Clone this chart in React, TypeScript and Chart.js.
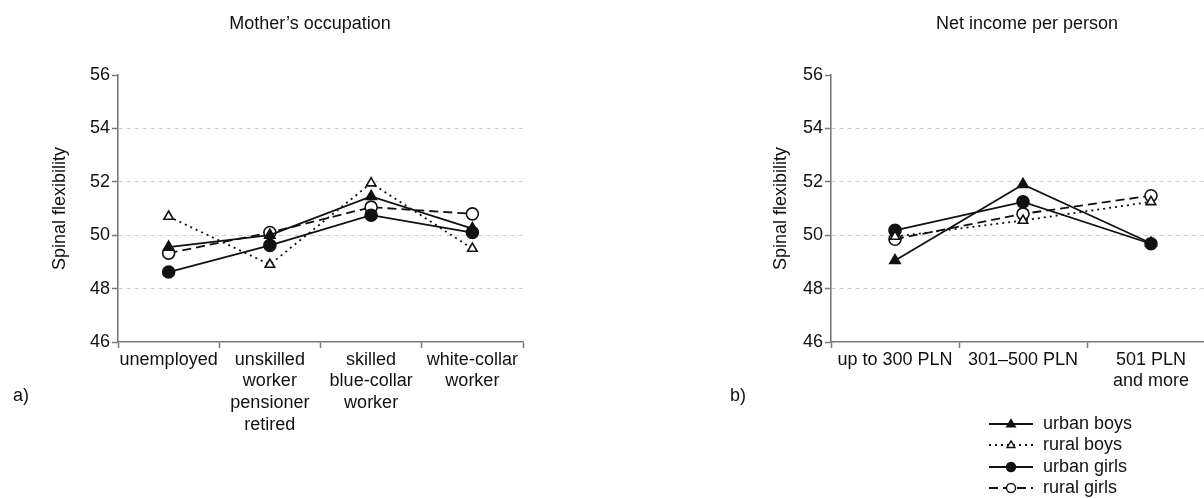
import { useEffect, useRef } from "react";
import { Chart, registerables } from "chart.js";

Chart.register(...registerables);

const FONT = '"Liberation Sans", Arial, Helvetica, sans-serif';

// Panel a) — mother's occupation
const occupationLabels = [
  ["unemployed"],
  ["unskilled", "worker", "pensioner", "retired"],
  ["skilled", "blue-collar", "worker"],
  ["white-collar", "worker"],
];
const occupationUrbanBoys = [49.55, 50.0, 51.45, 50.25];
const occupationRuralBoys = [50.7, 48.9, 51.95, 49.5];
const occupationUrbanGirls = [48.62, 49.62, 50.75, 50.1];
const occupationRuralGirls = [49.33, 50.1, 51.05, 50.8];

// Panel b) — net income per person
const incomeLabels = [["up to 300 PLN"], ["301–500 PLN"], ["501 PLN", "and more"]];
const incomeUrbanBoys = [49.05, 51.9, 49.7];
const incomeRuralBoys = [49.95, 50.55, 51.25];
const incomeUrbanGirls = [50.18, 51.25, 49.68];
const incomeRuralGirls = [49.85, 50.8, 51.48];

const seriesNames = ["urban boys", "rural boys", "urban girls", "rural girls"];
const yMin = 46;
const yMax = 56;
const yStep = 2;

type SeriesStyle = {
  dash: number[];
  pointStyle: "triangle" | "circle";
  filled: boolean;
  radius: number;
};

const seriesStyles: SeriesStyle[] = [
  { dash: [], pointStyle: "triangle", filled: true, radius: 6 },
  { dash: [2, 4], pointStyle: "triangle", filled: false, radius: 5.5 },
  { dash: [], pointStyle: "circle", filled: true, radius: 6 },
  { dash: [9, 5], pointStyle: "circle", filled: false, radius: 6 },
];

function makeDatasets(values: number[][]) {
  return values.map((data, i) => {
    const s = seriesStyles[i];
    return {
      label: seriesNames[i],
      data,
      borderColor: "#111",
      borderWidth: 1.8,
      borderDash: s.dash,
      pointStyle: s.pointStyle,
      pointRadius: s.radius,
      pointBorderWidth: 1.6,
      pointBorderColor: "#111",
      pointBackgroundColor: s.filled ? "#111" : "#fff",
      fill: false,
      tension: 0,
    };
  });
}

type PanelOpts = {
  labels: string[][];
  values: number[][];
  padLeft: number;
  padRight: number;
  yWidth: number;
  title: string;
  titleX: number;
  panelLabel: string;
  panelLabelX: number;
  legend?: { x: number; y: number; rowGap: number };
};

// Draws the panel heading, the a)/b) tag and, for the right panel, the series key
const headerPlugin = {
  id: "panelHeader",
  afterDraw(chart: any, _args: any, opts: any) {
    const { ctx } = chart;
    ctx.save();
    ctx.fillStyle = "#111";
    ctx.font = `18px ${FONT}`;
    ctx.textBaseline = "middle";
    ctx.textAlign = "center";
    ctx.fillText(opts.title, opts.titleX, 24);
    ctx.textAlign = "left";
    ctx.fillText(opts.panelLabel, opts.panelLabelX, 396);

    if (opts.legend) {
      const { x, y, rowGap } = opts.legend;
      chart.data.datasets.forEach((ds: any, i: number) => {
        const s = seriesStyles[i];
        const cy = Math.round(y + i * rowGap);
        ctx.strokeStyle = "#111";
        ctx.lineWidth = 1.8;
        ctx.setLineDash(s.dash);
        ctx.beginPath();
        ctx.moveTo(x, cy);
        ctx.lineTo(x + 44, cy);
        ctx.stroke();
        ctx.setLineDash([]);
        ctx.fillStyle = s.filled ? "#111" : "#fff";
        ctx.lineWidth = 1.4;
        const r = s.radius * 0.75;
        const mx = x + 22;
        ctx.beginPath();
        if (s.pointStyle === "circle") {
          ctx.arc(mx, cy, r, 0, Math.PI * 2);
        } else {
          ctx.moveTo(mx, cy - r);
          ctx.lineTo(mx + r * 0.95, cy + r * 0.6);
          ctx.lineTo(mx - r * 0.95, cy + r * 0.6);
          ctx.closePath();
        }
        ctx.fill();
        ctx.stroke();
        ctx.fillStyle = "#111";
        ctx.textAlign = "left";
        ctx.fillText(ds.label, x + 54, cy);
      });
    }
    ctx.restore();
  },
};

function buildConfig(o: PanelOpts): any {
  const n = o.labels.length;
  return {
    type: "line",
    data: { labels: o.labels, datasets: makeDatasets(o.values) },
    plugins: [headerPlugin],
    options: {
      animation: false,
      responsive: false,
      events: [],
      layout: { padding: { top: 75, left: o.padLeft, right: o.padRight, bottom: 0 } },
      plugins: {
        legend: { display: false },
        title: { display: false },
        tooltip: { enabled: false },
        panelHeader: {
          title: o.title,
          titleX: o.titleX,
          panelLabel: o.panelLabel,
          panelLabelX: o.panelLabelX,
          legend: o.legend,
        },
      },
      scales: {
        x: {
          type: "category",
          offset: true,
          afterFit: (s: any) => {
            s.height = 156;
          },
          grid: {
            offset: true,
            drawOnChartArea: false,
            drawTicks: true,
            tickLength: 6,
            tickWidth: 1.5,
            tickColor: (c: any) => (c.index === n ? "rgba(0,0,0,0)" : "#7a7a7a"),
          },
          border: { color: "#7a7a7a", width: 1.6 },
          ticks: {
            font: { family: FONT, size: 18, lineHeight: 1.2 },
            color: "#111",
            padding: 1,
            maxRotation: 0,
            autoSkip: false,
          },
        },
        y: {
          min: yMin,
          max: yMax,
          afterFit: (s: any) => {
            s.width = o.yWidth;
          },
          grid: {
            color: (c: any) =>
              c.tick && (c.tick.value === yMin || c.tick.value === yMax) ? "rgba(0,0,0,0)" : "#cdcdcd",
            lineWidth: 1,
            tickColor: "#7a7a7a",
            tickLength: 6,
            tickWidth: 1.5,
          },
          border: { color: "#7a7a7a", width: 1.6, dash: [4, 4] },
          ticks: {
            stepSize: yStep,
            font: { family: FONT, size: 18 },
            color: "#111",
            padding: 2,
          },
          title: {
            display: true,
            text: "Spinal flexibility",
            font: { family: FONT, size: 18 },
            color: "#111",
            padding: { top: 4, bottom: 0 },
          },
        },
      },
    },
  };
}

function Panel(props: { left: number; width: number; opts: PanelOpts }) {
  const ref = useRef<HTMLCanvasElement | null>(null);
  useEffect(() => {
    if (!ref.current) return;
    const chart = new Chart(ref.current, buildConfig(props.opts));
    return () => chart.destroy();
  }, []);
  return (
    <canvas
      ref={ref}
      width={props.width}
      height={498}
      style={{ position: "absolute", left: props.left, top: 0, width: props.width, height: 498, display: "block" }}
    />
  );
}

export default function App() {
  return (
    <div
      style={{
        position: "fixed",
        left: 0,
        top: 0,
        width: 1204,
        height: 498,
        overflow: "hidden",
        background: "#fff",
      }}
    >
      <Panel
        left={0}
        width={560}
        opts={{
          labels: occupationLabels,
          values: [occupationUrbanBoys, occupationRuralBoys, occupationUrbanGirls, occupationRuralGirls],
          padLeft: 45,
          padRight: 37,
          yWidth: 73,
          title: "Mother’s occupation",
          titleX: 310,
          panelLabel: "a)",
          panelLabelX: 13,
        }}
      />
      <Panel
        left={700}
        width={560}
        opts={{
          labels: incomeLabels,
          values: [incomeUrbanBoys, incomeRuralBoys, incomeUrbanGirls, incomeRuralGirls],
          padLeft: 66,
          padRight: 45,
          yWidth: 65,
          title: "Net income per person",
          titleX: 327,
          panelLabel: "b)",
          panelLabelX: 30,
          legend: { x: 289, y: 424, rowGap: 21.3 },
        }}
      />
    </div>
  );
}
